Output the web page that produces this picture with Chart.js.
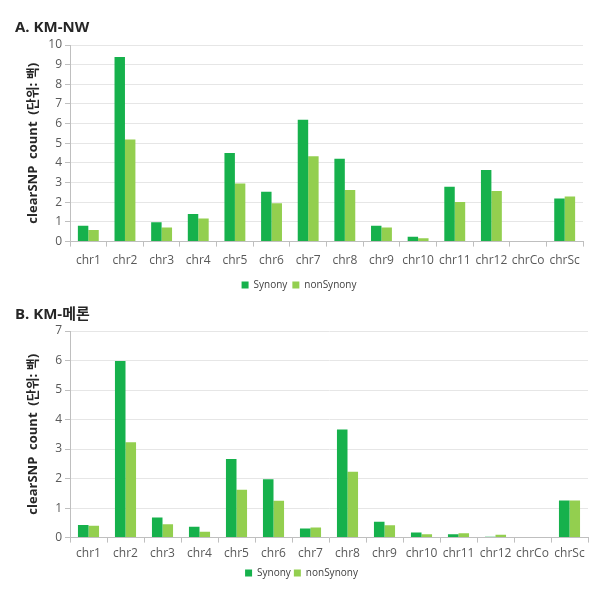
<!DOCTYPE html>
<html>
<head>
<meta charset="utf-8">
<script src="https://cdn.jsdelivr.net/npm/chart.js@4.4.0/dist/chart.umd.min.js"></script>
<style>
  body { margin: 0; background: #fff; }
  .box { position: absolute; left: 0; width: 612px; height: 300px; }
</style>
</head>
<body>
<div class="box" style="top:0"><canvas id="chartA"></canvas></div>
<div class="box" style="top:300px"><canvas id="chartB"></canvas></div>
<script>
// categories shared by both panels
const chromosomes = ['chr1', 'chr2', 'chr3', 'chr4', 'chr5', 'chr6', 'chr7', 'chr8', 'chr9', 'chr10', 'chr11', 'chr12', 'chrCo', 'chrSc'];

// A. KM-NW (hundreds)
const nwSynony    = [0.81, 9.39, 0.98, 1.40, 4.51, 2.54, 6.20, 4.21, 0.81, 0.25, 2.79, 3.64, 0, 2.19];
const nwNonSynony = [0.59, 5.19, 0.72, 1.18, 2.96, 1.95, 4.34, 2.63, 0.72, 0.17, 2.02, 2.58, 0, 2.29];

// B. KM-메론 (hundreds)
const meSynony    = [0.43, 5.98, 0.68, 0.37, 2.66, 1.98, 0.31, 3.66, 0.54, 0.17, 0.11, 0.03, 0, 1.26];
const meNonSynony = [0.40, 3.23, 0.45, 0.20, 1.62, 1.25, 0.34, 2.23, 0.42, 0.11, 0.15, 0.10, 0, 1.26];

const yTicksA = { max: 10, step: 1 };
const yTicksB = { max: 7, step: 1 };

const darkGreen = '#16b14c';
const lightGreen = '#93cf4f';
const font = "'Open Sans', 'Noto Sans CJK KR', sans-serif";

/**
 * Builds one grouped bar panel; sp holds the spacing for that panel.
 */
function makePanel(canvasId, title, syn, nonSyn, yt, sp) {
    const ctx = document.getElementById(canvasId).getContext('2d');
    return new Chart(ctx, {
        type: 'bar',
        data: {
            labels: chromosomes,
            datasets: [
                { label: 'Synony', data: syn, backgroundColor: darkGreen, categoryPercentage: 0.57, barPercentage: 1 },
                { label: 'nonSynony', data: nonSyn, backgroundColor: lightGreen, categoryPercentage: 0.57, barPercentage: 1 }
            ]
        },
        options: {
            responsive: true, maintainAspectRatio: false, animation: false,
            layout: { padding: { left: 15, right: sp.right, top: sp.top, bottom: sp.bottom } },
            scales: {
                x: {
                    grid: { display: true, offset: true, drawOnChartArea: false, tickLength: 5, color: '#bfbfbf' },
                    border: { color: '#bfbfbf' },
                    ticks: { color: '#595959', font: { family: font, size: 12 }, padding: sp.tickPad, maxRotation: 0, autoSkip: false }
                },
                y: {
                    min: 0, max: yt.max,
                    afterFit: function(scale) { scale.width = 55; },
                    grid: { color: '#e6e6e6', tickLength: 5, tickColor: '#bfbfbf' },
                    border: { color: '#bfbfbf' },
                    ticks: { stepSize: yt.step, color: '#595959', font: { family: font, size: 12 }, padding: 3 },
                    title: { display: true, text: 'clearSNP  count  (단위: 백)', color: '#262626', font: { family: font, size: 13, weight: 'bold' }, padding: { top: 10, bottom: 0 } }
                }
            },
            plugins: {
                title: { display: true, text: title, align: 'start', color: '#262626', font: { family: font, size: 15, weight: 'bold' }, padding: { top: 6, bottom: sp.titleBottom } },
                legend: {
                    position: 'bottom',
                    labels: { boxWidth: 7, boxHeight: 7, padding: sp.legendPad, color: '#404040', font: { family: font, size: 10 } }
                },
                tooltip: { enabled: false }
            }
        }
    });
}

makePanel('chartA', 'A. KM-NW', nwSynony, nwNonSynony, yTicksA,
    { right: 29, top: 13, bottom: 0, titleBottom: 8, tickPad: 7, legendPad: 5 });
makePanel('chartB', 'B. KM-메론', meSynony, meNonSynony, yTicksB,
    { right: 24, top: 0, bottom: 12, titleBottom: 7, tickPad: 4, legendPad: 3 });
</script>
</body>
</html>
